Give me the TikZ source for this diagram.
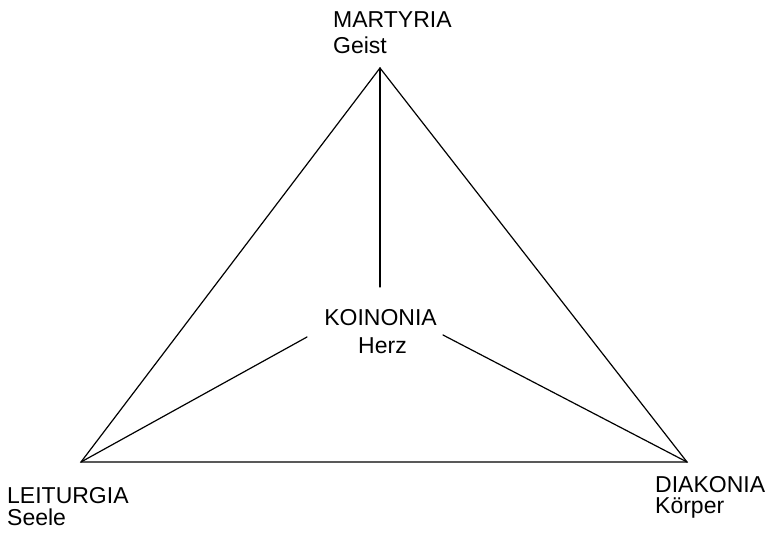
\documentclass[tikz,border=0pt]{standalone}
\usepackage{fontspec}
\setmainfont{Liberation Sans}
\usetikzlibrary{positioning}
\tikzstyle{every label} = [inner sep=0pt, font=\fontsize{23}{28}\selectfont]
\tikzstyle{side} = [draw, line width=1.2pt, line cap=round]

\begin{document}
\begin{tikzpicture}[x=1pt, y=-1pt]
        \useasboundingbox (0,0) rectangle (771,533);
        \tikzstyle{lbl} = [every label, anchor=base west]

        % corners of the triangle
        \coordinate (top) at (380,68);
        \coordinate (left) at (81,462);
        \coordinate (right) at (687,462);
        % ends of the lines at the centre
        \coordinate (kn) at (380,287);
        \coordinate (kw) at (307,337);
        \coordinate (ke) at (443,335);

        \node[lbl] (martyria) at (333,27) {MARTYRIA};
        \node[lbl] (geist) at (333,53) {Geist};
        \node[every label, anchor=base] (koinonia) at (380.5,325) {KOINONIA};
        \node[every label, anchor=base] (herz) at (382.5,353) {Herz};
        \node[lbl] (leiturgia) at (7,503) {LEITURGIA};
        \node[lbl] (seele) at (7,525) {Seele};
        \node[lbl] (diakonia) at (655,492) {DIAKONIA};
        \node[lbl] (koerper) at (655,513) {Körper};

        \path[side] (top) -- (left) -- (right) -- cycle;
        \path[side] (top) -- (kn);
        \path[side] (left) -- (kw);
        \path[side] (right) -- (ke);
    \end{tikzpicture}
\end{document}
